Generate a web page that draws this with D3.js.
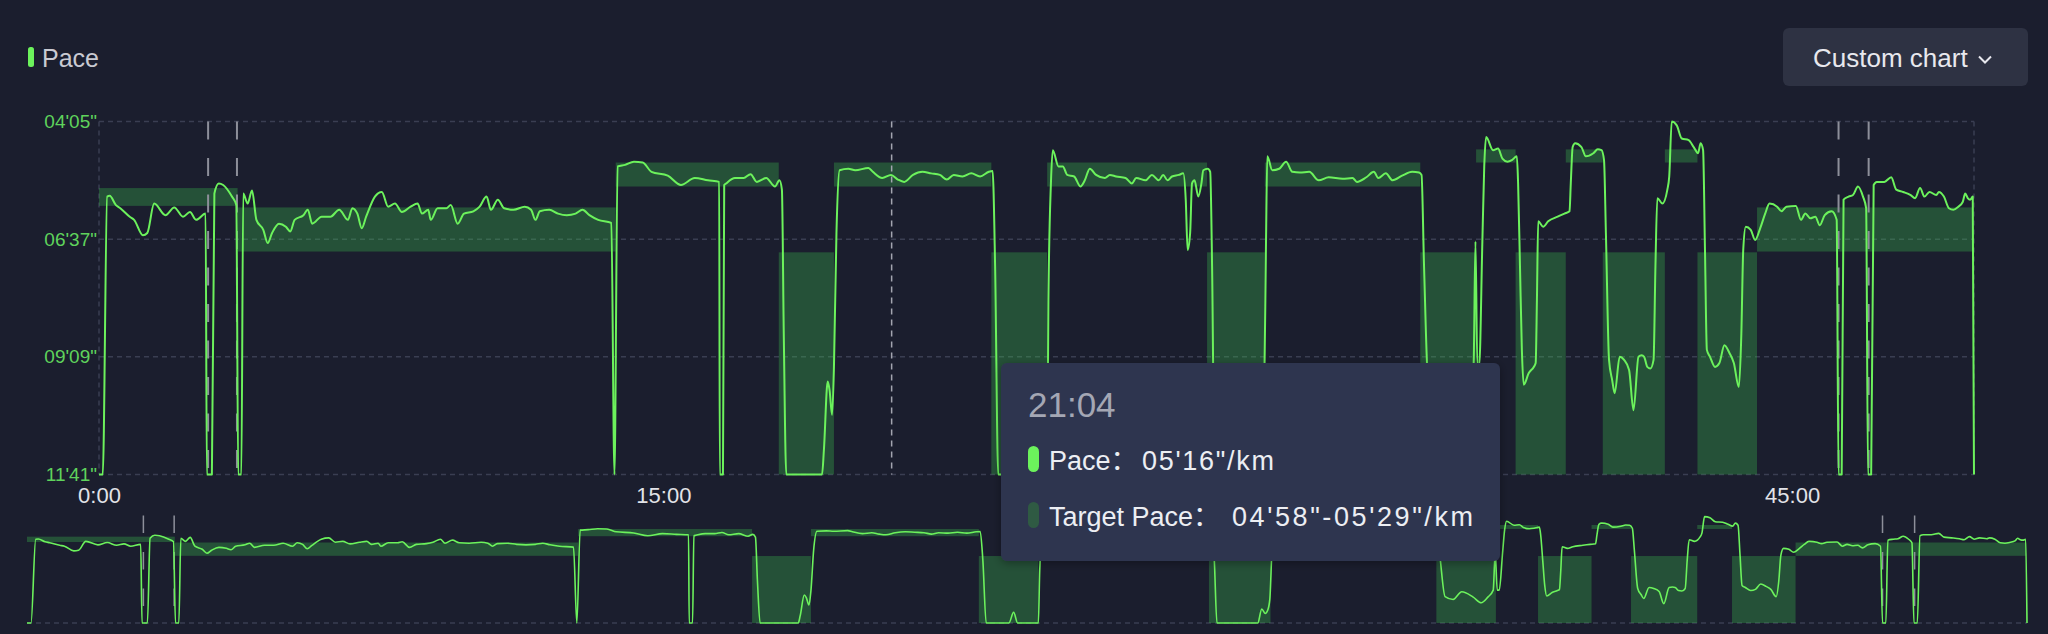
<!DOCTYPE html>
<html>
<head>
<meta charset="utf-8">
<script src="https://cdn.jsdelivr.net/npm/d3@7/dist/d3.min.js"></script>
<style>
  html, body { margin: 0; padding: 0; background: #1b1e2e; }
  svg { display: block; font-family: "Liberation Sans", Arial, "Noto Sans CJK SC", sans-serif; }
</style>
</head>
<body>
<svg id="chart" width="2048" height="634"></svg>
<script>
// ---------- data (seconds since start, pace in seconds per km) ----------
const paceTime = [0,6,13,17,27,34,49,56,70,77,88,106,120,134,145,155,170,172,180,184,191,198,212,219,222,227,230,237,244,251,262,269,276,287,298,305,312,326,333,340,355,369,383,397,404,412,419,426,440,451,461,472,483,497,508,515,525,529,540,554,561,572,582,597,607,618,625,636,646,661,679,689,696,703,718,732,746,760,771,782,796,817,822,827,839,853,867,881,907,928,950,971,989,990,995,997,1000,1014,1028,1039,1049,1064,1078,1085,1089,1092,1096,1153,1156,1162,1165,1169,1172,1176,1181,1195,1206,1227,1234,1249,1263,1274,1284,1298,1313,1327,1341,1352,1363,1377,1391,1405,1419,1425,1429,1434,1468,1475,1481,1512,1514,1518,1521,1530,1537,1544,1555,1565,1572,1580,1590,1604,1612,1622,1637,1647,1654,1669,1679,1690,1697,1704,1711,1722,1729,1733,1736,1740,1743,1747,1753,1758,1761,1768,1772,1775,1779,1840,1846,1851,1855,1858,1861,1863,1871,1882,1893,1903,1915,1930,1945,1961,1983,1999,2006,2021,2033,2040,2052,2063,2078,2094,2105,2109,2113,2120,2132,2145,2162,2174,2184,2192,2195,2198,2201,2206,2209,2212,2223,2231,2238,2246,2253,2261,2263,2266,2269,2272,2280,2288,2291,2293,2295,2303,2311,2326,2337,2345,2347,2350,2354,2364,2371,2383,2390,2396,2400,2403,2408,2413,2417,2425,2432,2440,2447,2455,2460,2464,2469,2474,2479,2482,2485,2493,2501,2504,2508,2516,2524,2535,2543,2550,2554,2558,2561,2564,2569,2577,2584,2592,2600,2607,2615,2619,2622,2626,2634,2641,2649,2657,2664,2676,2683,2691,2706,2714,2721,2729,2737,2744,2752,2763,2771,2774,2779,2782,2790,2797,2805,2813,2818,2821,2826,2830,2835,2847,2858,2866,2877,2889,2896,2904,2911,2919,2930,2934,2942,2950,2957,2965,2972,2976,2980,2984,2988,2990];
const paceValue = [701,701,342,341,353,357,368,372,392,389,351,366,356,368,362,372,364,701,701,338,325,327,342,353,701,701,338,351,334,372,385,402,389,377,381,387,372,366,359,377,368,368,359,372,357,364,383,368,342,336,355,351,362,355,351,364,359,372,357,357,353,377,364,361,355,342,359,346,357,359,355,359,372,361,359,364,366,364,359,366,372,376,701,303,301,297,298,310,315,327,318,321,323,701,701,327,325,318,318,313,323,318,329,321,333,520,701,701,669,581,592,624,562,389,308,306,308,305,310,318,314,320,323,314,310,312,314,320,314,316,312,316,310,309,432,701,701,655,701,701,476,325,282,303,303,314,316,329,321,306,314,318,314,316,318,325,318,321,314,321,314,321,316,314,312,346,411,389,325,321,342,325,308,306,310,432,701,701,641,660,645,600,400,290,308,306,297,310,311,310,321,317,319,318,323,317,310,318,312,321,315,310,311,314,432,588,600,567,590,614,590,560,400,560,560,400,303,265,282,280,293,297,295,290,325,432,540,585,570,562,557,476,374,381,374,368,364,361,325,278,273,278,290,286,281,282,295,389,553,579,596,549,553,566,618,549,547,549,562,564,553,432,344,351,333,316,245,250,267,269,278,286,273,282,411,540,549,562,557,534,544,557,588,519,411,381,385,398,383,364,351,355,361,355,354,372,364,370,368,379,366,361,372,701,701,346,342,340,329,342,357,701,701,327,323,323,317,333,336,340,344,331,342,336,340,336,342,357,359,355,349,338,344,346,342,701];

// target pace bands
const targetStart = [0, 221, 824, 1084, 1172, 1423, 1512, 1767, 1859, 2107, 2196, 2259, 2339, 2398, 2497, 2549, 2644];
const targetEnd   = [221, 824, 1084, 1172, 1423, 1512, 1767, 1859, 2107, 2196, 2259, 2339, 2398, 2497, 2549, 2644, 2989];
const targetFast  = [331, 356, 298, 414, 298, 414, 298, 414, 298, 414, 281, 414, 281, 414, 281, 414, 356];
const targetSlow  = [354, 413, 329, 701, 329, 701, 329, 701, 329, 701, 298, 701, 298, 701, 298, 701, 413];

// pause markers (seconds)
const pauseTimes = [174, 220, 2774, 2822];

// axes (the 30:00 label sits under the tooltip in the reference, so only visible ticks are listed)
const yTickValues = [245, 397, 549, 701];
const xTickValues = [0, 900, 2700];
const timeDomain = [0, 2990];

// tooltip content
const hoverTime = 1264;
const tooltipTitle = "21:04";
const tooltipPaceLabel = "Pace：";
const tooltipPaceValue = "05'16\"/km";
const tooltipTargetLabel = "Target Pace：";
const tooltipTargetValue = "04'58\"-05'29\"/km";

// ---------- drawing ----------
const svg = d3.select("#chart");
const BG = "#1b1e2e";
const LINE = "#6cf25c";
const BAND = "#3cbf4e";

svg.append("rect").attr("width", 2048).attr("height", 634).attr("fill", BG);

const pad2 = n => String(n).padStart(2, "0");
const fmtPace = s => pad2(Math.floor(s / 60)) + "'" + pad2(Math.round(s % 60)) + '"';
const fmtTime = s => Math.floor(s / 60) + ":" + pad2(Math.round(s % 60));

const data = paceTime.map((t, i) => ({ t, p: paceValue[i] }));
const bands = targetStart.map((s, i) => ({ s, e: targetEnd[i], f: targetFast[i], w: targetSlow[i] }));

// main scales
const x = d3.scaleLinear().domain(timeDomain).range([99, 1974]);
const y = d3.scaleLinear().domain([245, 701]).range([121.5, 474.5]).clamp(true);

// mini scales
const xm = d3.scaleLinear().domain(timeDomain).range([27, 2027]);
const ym = d3.scaleLinear().domain([245, 701]).range([516.6, 623]).clamp(true);

// legend
svg.append("rect").attr("x", 28).attr("y", 47).attr("width", 6).attr("height", 20).attr("rx", 2.5).attr("fill", LINE);
svg.append("text").attr("x", 42).attr("y", 66.5).attr("fill", "#c9cad2").attr("font-size", 25).text("Pace");

// custom chart button
svg.append("rect").attr("x", 1783).attr("y", 28).attr("width", 245).attr("height", 58).attr("rx", 6).attr("fill", "#2e3243");
svg.append("text").attr("x", 1813).attr("y", 66.5).attr("fill", "#e8e8ee").attr("font-size", 26).text("Custom chart");
svg.append("path").attr("d", "M1979,56.5 L1985,62.5 L1991,56.5").attr("fill", "none").attr("stroke", "#e8e8ee").attr("stroke-width", 2);

// main chart grid
const grid = svg.append("g");
grid.selectAll("line.h").data(yTickValues).join("line")
  .attr("x1", x.range()[0]).attr("x2", x.range()[1])
  .attr("y1", d => y(d)).attr("y2", d => y(d))
  .attr("stroke", "#3a3e52").attr("stroke-width", 1.5).attr("stroke-dasharray", "5,4");
grid.selectAll("line.v").data(timeDomain).join("line")
  .attr("x1", d => x(d)).attr("x2", d => x(d))
  .attr("y1", y(245)).attr("y2", y(701))
  .attr("stroke", "#3a3e52").attr("stroke-width", 1.5).attr("stroke-dasharray", "5,4");

// main bands
svg.append("g").selectAll("rect").data(bands).join("rect")
  .attr("x", d => x(d.s)).attr("width", d => x(d.e) - x(d.s))
  .attr("y", d => y(d.f)).attr("height", d => y(d.w) - y(d.f))
  .attr("fill", BAND).attr("fill-opacity", 0.32);

// pause markers
svg.append("g").selectAll("line").data(pauseTimes).join("line")
  .attr("x1", d => x(d)).attr("x2", d => x(d))
  .attr("y1", y(245)).attr("y2", y(701))
  .attr("stroke", "#8d8f9a").attr("stroke-width", 2).attr("stroke-dasharray", "18,18.5");

// hover line
svg.append("line").attr("x1", x(hoverTime)).attr("x2", x(hoverTime))
  .attr("y1", y(245)).attr("y2", y(701))
  .attr("stroke", "#a3a5b0").attr("stroke-width", 1.5).attr("stroke-dasharray", "6,5");

// main line
const line = d3.line().x(d => x(d.t)).y(d => y(d.p)).curve(d3.curveMonotoneX);
svg.append("path").datum(data).attr("d", line)
  .attr("fill", "none").attr("stroke", LINE).attr("stroke-width", 2).attr("stroke-linejoin", "round");

// y axis
const yAxis = svg.append("g").attr("transform", `translate(${x.range()[0]},0)`)
  .call(d3.axisLeft(y).tickValues(yTickValues).tickFormat(fmtPace).tickSize(0).tickPadding(2));
yAxis.select(".domain").remove();
yAxis.selectAll("text").attr("fill", "#5fd35c").attr("font-size", 19).attr("font-family", "Liberation Sans, Arial, sans-serif");

// x axis
const xAxis = svg.append("g").attr("transform", `translate(0,${y.range()[1]})`)
  .call(d3.axisBottom(x).tickValues(xTickValues).tickFormat(fmtTime).tickSize(0).tickPadding(13));
xAxis.select(".domain").remove();
xAxis.selectAll("text").attr("fill", "#e2e3e8").attr("font-size", 22).attr("font-family", "Liberation Sans, Arial, sans-serif");

// ---------- mini (overview) chart ----------
svg.append("line").attr("x1", xm.range()[0]).attr("x2", xm.range()[1])
  .attr("y1", ym(701)).attr("y2", ym(701))
  .attr("stroke", "#3a3e52").attr("stroke-width", 1.5).attr("stroke-dasharray", "5,4");
svg.append("g").selectAll("rect").data(bands).join("rect")
  .attr("x", d => xm(d.s)).attr("width", d => xm(d.e) - xm(d.s))
  .attr("y", d => ym(d.f)).attr("height", d => ym(d.w) - ym(d.f))
  .attr("fill", BAND).attr("fill-opacity", 0.32);
svg.append("g").selectAll("line").data(pauseTimes).join("line")
  .attr("x1", d => xm(d)).attr("x2", d => xm(d))
  .attr("y1", ym(245) - 1).attr("y2", ym(701))
  .attr("stroke", "#8d8f9a").attr("stroke-width", 1.5).attr("stroke-dasharray", "17.5,19");
const lineM = d3.line().x(d => xm(d.t)).y(d => ym(d.p)).curve(d3.curveMonotoneX);
svg.append("path").datum(data).attr("d", lineM)
  .attr("fill", "none").attr("stroke", LINE).attr("stroke-width", 1.6).attr("stroke-linejoin", "round");

// ---------- tooltip ----------
const defs = svg.append("defs");
const f = defs.append("filter").attr("id", "shadow").attr("x", "-10%").attr("y", "-10%").attr("width", "120%").attr("height", "130%");
f.append("feDropShadow").attr("dx", 0).attr("dy", 2).attr("stdDeviation", 5).attr("flood-color", "#000").attr("flood-opacity", 0.35);

const tip = svg.append("g");
tip.append("rect").attr("x", 1001).attr("y", 363).attr("width", 499).attr("height", 198).attr("rx", 6)
  .attr("fill", "#2f3550").attr("filter", "url(#shadow)");
tip.append("text").attr("x", 1028).attr("y", 417).attr("fill", "#a4a7b4").attr("font-size", 35).text(tooltipTitle);
tip.append("rect").attr("x", 1028).attr("y", 446).attr("width", 11).attr("height", 26).attr("rx", 5.5).attr("fill", LINE);
tip.append("text").attr("x", 1049).attr("y", 469.5).attr("fill", "#eceef3").attr("font-size", 27).text(tooltipPaceLabel);
tip.append("text").attr("x", 1142).attr("y", 469.5).attr("fill", "#eceef3").attr("font-size", 27)
  .attr("textLength", 132).attr("lengthAdjust", "spacing").text(tooltipPaceValue);
tip.append("rect").attr("x", 1028).attr("y", 502).attr("width", 11).attr("height", 26).attr("rx", 5.5).attr("fill", "#2f5a43");
tip.append("text").attr("x", 1049).attr("y", 525.5).attr("fill", "#eceef3").attr("font-size", 27).text(tooltipTargetLabel);
tip.append("text").attr("x", 1232).attr("y", 525.5).attr("fill", "#eceef3").attr("font-size", 27)
  .attr("textLength", 241).attr("lengthAdjust", "spacing").text(tooltipTargetValue);
</script>
</body>
</html>
